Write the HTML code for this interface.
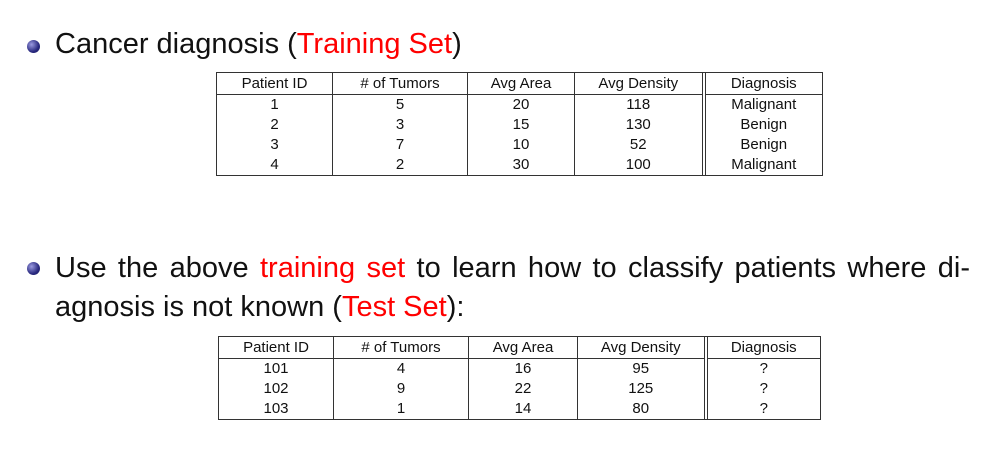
<!DOCTYPE html>
<html><head><meta charset="utf-8"><style>
body{margin:0;width:998px;height:476px;background:#fff;position:relative;overflow:hidden;font-family:"Liberation Sans",sans-serif;color:#111}
.b{position:absolute;width:13px;height:13px;border-radius:50%;background:radial-gradient(circle at 35% 35%,#9a9ae0,#2a2a80 60%,#14145a)}
.t{position:absolute;font-size:29px;white-space:nowrap}
.r{color:#f00}
.l{position:absolute;height:1px;width:6px;background:#333}
table{position:absolute;border-collapse:collapse;table-layout:fixed;font-size:15px}
td{border-left:1px solid #333;border-right:1px solid #333;text-align:center;padding:0;height:20px;line-height:20px}
tr.h td{border-top:1px solid #333;border-bottom:1px solid #333;height:21px}
tr:last-child td{border-bottom:1px solid #333}
td.d{border-left:4px double #333}
</style></head><body>
<div class="b" style="left:27px;top:40px"></div>
<div class="t" style="left:55px;top:28px">Cancer diagnosis (<span class="r">Training Set</span>)</div>
<table style="left:216px;top:72px;width:606px">
<colgroup><col style="width:116px"><col style="width:135px"><col style="width:107px"><col style="width:129px"><col style="width:119px"></colgroup>
<tr class="h"><td>Patient ID</td><td># of Tumors</td><td>Avg Area</td><td>Avg Density</td><td class="d">Diagnosis</td></tr>
<tr><td>1</td><td>5</td><td>20</td><td>118</td><td class="d">Malignant</td></tr>
<tr><td>2</td><td>3</td><td>15</td><td>130</td><td class="d">Benign</td></tr>
<tr><td>3</td><td>7</td><td>10</td><td>52</td><td class="d">Benign</td></tr>
<tr><td>4</td><td>2</td><td>30</td><td>100</td><td class="d">Malignant</td></tr>
</table>
<div class="l" style="left:701px;top:72px"></div>
<div class="l" style="left:701px;top:175px"></div>
<div class="b" style="left:27px;top:262px"></div>
<div class="t" style="left:55px;top:252px;width:915px;text-align:justify;text-align-last:justify;white-space:normal">Use the above <span class="r">training set</span> to learn how to classify patients where di-</div>
<div class="t" style="left:55px;top:291px">agnosis is not known (<span class="r">Test Set</span>):</div>
<table style="left:218px;top:336px;width:602px">
<colgroup><col style="width:115px"><col style="width:135px"><col style="width:109px"><col style="width:128px"><col style="width:115px"></colgroup>
<tr class="h"><td>Patient ID</td><td># of Tumors</td><td>Avg Area</td><td>Avg Density</td><td class="d">Diagnosis</td></tr>
<tr><td>101</td><td>4</td><td>16</td><td>95</td><td class="d">?</td></tr>
<tr><td>102</td><td>9</td><td>22</td><td>125</td><td class="d">?</td></tr>
<tr><td>103</td><td>1</td><td>14</td><td>80</td><td class="d">?</td></tr>
</table>
<div class="l" style="left:703px;top:336px"></div>
<div class="l" style="left:703px;top:419px"></div>
</body></html>
